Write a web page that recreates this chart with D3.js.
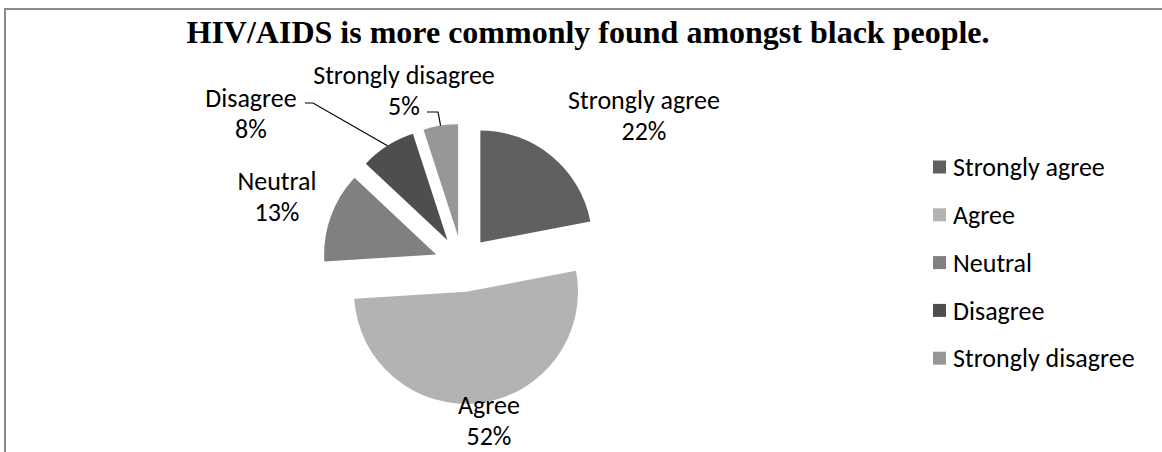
<!DOCTYPE html>
<html>
<head>
<meta charset="utf-8">
<script src="https://cdn.jsdelivr.net/npm/d3@7"></script>
<style>
  html, body { margin: 0; padding: 0; background: #fff; }
  svg { display: block; }
</style>
</head>
<body>
<svg id="chart" width="1162" height="452"></svg>
<script>
// Survey responses to the statement in the title
const categories = ["Strongly agree", "Agree", "Neutral", "Disagree", "Strongly disagree"];
const percents = [22, 52, 13, 8, 5];
const sliceColors = ["#606060", "#b3b3b3", "#808080", "#4e4e4e", "#979797"];
const titleText = "HIV/AIDS is more commonly found amongst black people.";

// Layout
const W = 1162, H = 452;
const cx = 462.5, cy = 264, R = 112, explode = 28;
const labelFont = "Carlito, Calibri, Lato, sans-serif";
const labelSize = 26;
const lineGap = 31;
// label block centres (first line) and optional leader elbows
const labelLayout = [
  { x: 644, y: 100 },
  { x: 489, y: 405 },
  { x: 277, y: 181 },
  { x: 251, y: 98, elbow: [313, 103], tail: [305, 103] },
  { x: 404, y: 75, elbow: [438, 112], tail: [427, 112] }
];

const svg = d3.select("#chart");

// frame
svg.append("rect")
  .attr("x", 5).attr("y", 9)
  .attr("width", W + 20).attr("height", H + 20)
  .attr("fill", "none").attr("stroke", "#8a8a8a").attr("stroke-width", 2);

// title
svg.append("text")
  .attr("x", 588).attr("y", 43)
  .attr("text-anchor", "middle")
  .attr("font-family", "'Liberation Serif', 'Times New Roman', serif")
  .attr("font-weight", "bold")
  .attr("font-size", 32)
  .attr("fill", "#000")
  .text(titleText);

const data = categories.map((c, i) => ({ name: c, value: percents[i], color: sliceColors[i] }));

const pie = d3.pie().value(d => d.value).sort(null).startAngle(0).endAngle(2 * Math.PI);
const arcs = pie(data);
const arc = d3.arc().innerRadius(0).outerRadius(R);

const g = svg.append("g").attr("transform", `translate(${cx},${cy})`);

function offsetOf(a) {
  const mid = (a.startAngle + a.endAngle) / 2;
  return [explode * Math.sin(mid), -explode * Math.cos(mid)];
}

g.selectAll("path.slice")
  .data(arcs)
  .join("path")
  .attr("class", "slice")
  .attr("transform", d => { const o = offsetOf(d); return `translate(${o[0]},${o[1]})`; })
  .attr("d", arc)
  .attr("fill", d => d.data.color);

// leader lines
arcs.forEach((a, i) => {
  const L = labelLayout[i];
  if (!L.elbow) return;
  const mid = (a.startAngle + a.endAngle) / 2;
  const o = offsetOf(a);
  const px = cx + o[0] + R * Math.sin(mid);
  const py = cy + o[1] - R * Math.cos(mid);
  svg.append("path")
    .attr("d", d3.line()([[px, py], L.elbow, L.tail]))
    .attr("fill", "none").attr("stroke", "#000").attr("stroke-width", 1.2);
});

// data labels
arcs.forEach((a, i) => {
  const L = labelLayout[i];
  const t = svg.append("text")
    .attr("text-anchor", "middle")
    .attr("font-family", labelFont)
    .attr("font-size", labelSize)
    .attr("fill", "#000");
  t.append("tspan").attr("x", L.x).attr("y", L.y).attr("dy", "0.35em").text(a.data.name);
  t.append("tspan").attr("x", L.x).attr("y", L.y + lineGap).attr("dy", "0.35em").text(a.data.value + "%");
});

// legend
const legend = svg.append("g").attr("transform", "translate(933,167)");
const rowH = 47.8;
const items = legend.selectAll("g").data(data).join("g")
  .attr("transform", (d, i) => `translate(0,${i * rowH})`);
items.append("rect")
  .attr("x", 0).attr("y", -6.5).attr("width", 13).attr("height", 13)
  .attr("fill", d => d.color);
items.append("text")
  .attr("x", 20).attr("y", 0).attr("dy", "0.35em")
  .attr("font-family", labelFont)
  .attr("font-size", labelSize)
  .attr("fill", "#000")
  .text(d => d.name);
</script>
</body>
</html>
